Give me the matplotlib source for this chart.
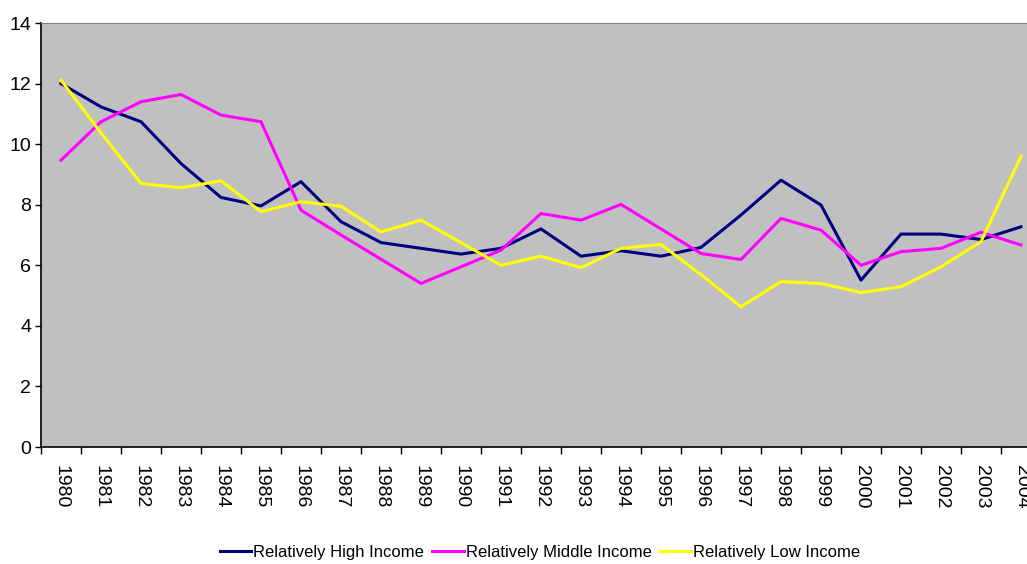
import numpy as np
import matplotlib
matplotlib.use("Agg")
import matplotlib.pyplot as plt
from matplotlib import font_manager

# dados
anos = [str(a) for a in range(1980, 2005)]
alta = [12.0, 11.23, 10.74, 9.36, 8.24, 7.96, 8.76, 7.44, 6.75, 6.56, 6.37, 6.56, 7.2,
        6.3, 6.48, 6.3, 6.59, 7.66, 8.81, 7.99, 5.51, 7.03, 7.03, 6.85, 7.27]
media = [9.47, 10.74, 11.4, 11.64, 10.96, 10.74, 7.82, 7.0, 6.2, 5.4, 5.95, 6.5, 7.71,
         7.49, 8.01, 7.2, 6.39, 6.19, 7.55, 7.16, 6.0, 6.45, 6.56, 7.09, 6.67]
baixa = [12.11, 10.37, 8.7, 8.56, 8.79, 7.77, 8.1, 7.95, 7.1, 7.49, 6.75, 6.0, 6.3,
         5.92, 6.56, 6.69, 5.69, 4.63, 5.46, 5.4, 5.1, 5.29, 5.95, 6.78, 9.6]
nomes = ["Relatively High Income", "Relatively Middle Income", "Relatively Low Income"]
cores = ["#000080", "#FF00FF", "#FFFF00"]

# fonte estreita se existir
nomes_fontes = {f.name for f in font_manager.fontManager.ttflist}
if "Liberation Sans Narrow" in nomes_fontes:
    plt.rcParams["font.family"] = "Liberation Sans Narrow"
else:
    plt.rcParams["font.family"] = "Liberation Sans"

W, H = 1027, 564
fig = plt.figure(figsize=(W / 100, H / 100), dpi=100)
ax = fig.add_axes([41 / W, 117 / H, 1000 / W, 424 / H])
ax.set_facecolor("#C0C0C0")

x = np.arange(len(anos))
for serie, nome, cor in zip([alta, media, baixa], nomes, cores):
    ax.plot(x, serie, color=cor, linewidth=2.2, label=nome)

ax.set_xlim(-0.5, len(anos) - 0.5)
ax.set_ylim(0, 14)
ax.set_yticks(range(0, 15, 2))

ax.set_xticks(x)
ax.set_xticklabels(anos, rotation=-90, fontsize=14)
ax.set_xticks(np.arange(-0.5, len(anos), 1), minor=True)
ax.tick_params(axis="x", which="major", length=0, pad=13)
ax.tick_params(axis="x", which="minor", length=5, width=1, color="black")
ax.tick_params(axis="y", length=4, width=1, pad=3, labelsize=14)

ax.spines["left"].set_color("black")
ax.spines["bottom"].set_color("black")
ax.spines["left"].set_linewidth(1.2)
ax.spines["bottom"].set_linewidth(1.2)
ax.spines["top"].set_color("#808080")
ax.spines["right"].set_visible(False)

fig.legend(loc="center", bbox_to_anchor=(540 / W, 1 - 552 / H), ncol=3, frameon=False,
           fontsize=12, handlelength=1.9, handletextpad=0.1, columnspacing=0.5)

plt.savefig("out.png", dpi=100)
